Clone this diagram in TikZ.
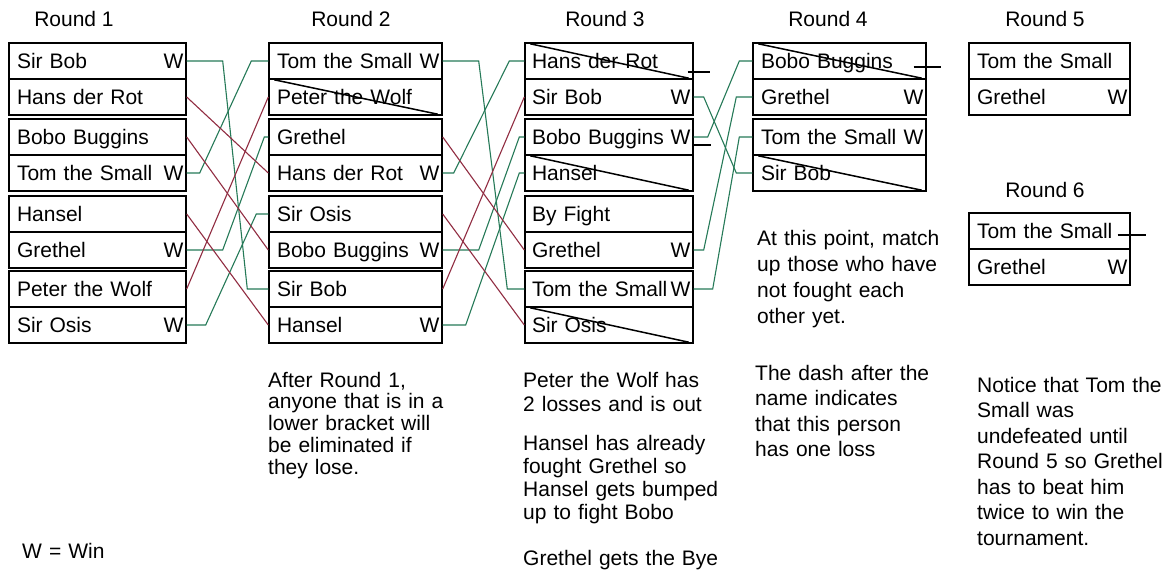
\documentclass[tikz,border=0pt]{standalone}
\usepackage{fontspec}
\setmainfont{Liberation Sans}
\definecolor{grn}{RGB}{38,122,88}
\definecolor{rd}{RGB}{145,45,66}
\begin{document}
\begin{tikzpicture}[x=1pt,y=-1pt,
  every node/.style={font=\fontsize{21}{25}\selectfont},
  row/.style={draw, line width=1.4pt, rectangle, minimum height=36pt, inner xsep=8pt, inner ysep=0pt, text height=14.5pt, text depth=0pt, align=left},
  colA/.style={row, text width=161pt},
  colB/.style={row, text width=157pt},
  colC/.style={row, inner xsep=7pt, text width=154pt},
  colD/.style={row, text width=157pt},
  colE/.style={row, text width=145pt},
  win/.style={label={[anchor=east,inner sep=0pt,xshift=-3pt,text height=14.5pt,text depth=0pt]east:W}},
  gline/.style={draw=grn, line width=1.1pt},
  rline/.style={draw=rd, line width=1.1pt},
  strike/.style={line width=1.5pt},
  dashmark/.style={line width=1.3pt},
  note/.style={anchor=base west, inner sep=0pt, align=left, text width=200pt}
]
\useasboundingbox[fill=white] (0,0) rectangle (1173,573);

% titles
\node (t1) at (74,19) {Round 1};
\node (t2) at (351,19) {Round 2};
\node (t3) at (605,19) {Round 3};
\node (t4) at (828,19) {Round 4};
\node (t5) at (1045,19) {Round 5};
\node (t6) at (1045,190) {Round 6};

% Round 1
\node[colA,win] (a1) at (97.5,61) {Sir Bob};
\node[colA]     (a2) at (97.5,97) {Hans der Rot};
\node[colA]     (a3) at (97.5,137) {Bobo Buggins};
\node[colA,win] (a4) at (97.5,173) {Tom the Small};
\node[colA]     (a5) at (97.5,214) {Hansel};
\node[colA,win] (a6) at (97.5,250) {Grethel};
\node[colA]     (a7) at (97.5,289) {Peter the Wolf};
\node[colA,win] (a8) at (97.5,325) {Sir Osis};

% Round 2
\node[colB,win] (b1) at (355.5,61) {Tom the Small};
\node[colB]     (b2) at (355.5,97) {Peter the Wolf};
\node[colB]     (b3) at (355.5,137) {Grethel};
\node[colB,win] (b4) at (355.5,173) {Hans der Rot};
\node[colB]     (b5) at (355.5,214) {Sir Osis};
\node[colB,win] (b6) at (355.5,250) {Bobo Buggins};
\node[colB]     (b7) at (355.5,289) {Sir Bob};
\node[colB,win] (b8) at (355.5,325) {Hansel};

% Round 3
\node[colC]     (c1) at (609,61) {Hans der Rot};
\node[colC,win] (c2) at (609,97) {Sir Bob};
\node[colC,win] (c3) at (609,137) {Bobo Buggins};
\node[colC]     (c4) at (609,173) {Hansel};
\node[colC]     (c5) at (609,214) {By Fight};
\node[colC,win] (c6) at (609,250) {Grethel};
\node[colC,win] (c7) at (609,289) {Tom the Small};
\node[colC]     (c8) at (609,325) {Sir Osis};

% Round 4
\node[colD]     (d1) at (839.5,61) {Bobo Buggins};
\node[colD,win] (d2) at (839.5,97) {Grethel};
\node[colD,win] (d3) at (839.5,137) {Tom the Small};
\node[colD]     (d4) at (839.5,173) {Sir Bob};

% Round 5
\node[colE]     (e1) at (1049.5,61) {Tom the Small};
\node[colE,win] (e2) at (1049.5,97) {Grethel};

% Round 6
\node[colE]     (f1) at (1049.5,231) {Tom the Small};
\node[colE,win] (f2) at (1049.5,267) {Grethel};

% strikes
\foreach \n in {b2,c1,c4,c8,d1,d4}{
  \draw[strike] ([shift={(6pt,-1.5pt)}]\n.north west) -- ([shift={(-5pt,1.5pt)}]\n.south east);
}

% dashes (one loss)
\draw[dashmark] ([shift={(-6pt,-11pt)}]c1.east) -- ++(22pt,0pt);
\draw[dashmark] ([shift={(0pt,-8pt)}]c3.east) -- ++(17pt,0pt);
\draw[dashmark] ([shift={(-13pt,-6pt)}]d1.east) -- ++(27pt,0pt);
\draw[dashmark] ([shift={(-13pt,-4pt)}]f1.east) -- ++(28pt,0pt);

% Round 1 -> Round 2
\draw[gline] (a1.east) -- ++(36pt,0pt) -- ([xshift=-21pt]b7.west) -- (b7.west);
\draw[gline] (a4.east) -- ++(13pt,0pt) -- ([xshift=-17pt]b1.west) -- (b1.west);
\draw[gline] (a6.east) -- ++(36pt,0pt) -- ([xshift=-4pt]b3.west) -- (b3.west);
\draw[gline] (a8.east) -- ++(19pt,0pt) -- ([xshift=-12pt]b5.west) -- (b5.west);
\draw[rline] (a2.east) -- (b4.west);
\draw[rline] (a3.east) -- (b6.west);
\draw[rline] (a5.east) -- (b8.west);
\draw[rline] (a7.east) -- (b2.west);

% Round 2 -> Round 3
\draw[gline] (b1.east) -- ++(36pt,0pt) -- ([xshift=-17pt]c7.west) -- (c7.west);
\draw[gline] (b4.east) -- ++(11pt,0pt) -- ([xshift=-15pt]c1.west) -- (c1.west);
\draw[gline] (b6.east) -- ++(36pt,0pt) -- ([xshift=-5pt]c3.west) -- (c3.west);
\draw[gline] (b8.east) -- ++(23pt,0pt) -- ([xshift=-5pt]c4.west) -- (c4.west);
\draw[rline] (b3.east) -- (c6.west);
\draw[rline] (b5.east) -- (c8.west);
\draw[rline] (b7.east) -- (c2.west);

% Round 3 -> Round 4
\draw[gline] (c2.east) -- ++(10pt,0pt) -- ([xshift=-16pt]d4.west) -- (d4.west);
\draw[gline] (c3.east) -- ++(14pt,0pt) -- ([xshift=-13pt]d1.west) -- (d1.west);
\draw[gline] (c6.east) -- ++(10pt,0pt) -- ([xshift=-16pt]d2.west) -- (d2.west);
\draw[gline] (c7.east) -- ++(19pt,0pt) -- ([xshift=-13pt]d3.west) -- (d3.west);

% notes
\node[note,font=\fontsize{21}{21.75}\selectfont] (n1) at (268,387) {After Round 1,\\anyone that is in a\\lower bracket will\\be eliminated if\\they lose.};
\node[note,font=\fontsize{21}{24}\selectfont] (n2) at (523,387) {Peter the Wolf has\\2 losses and is out};
\node[note,font=\fontsize{21}{23}\selectfont] (n3) at (523,450) {Hansel has already\\fought Grethel so\\Hansel gets bumped\\up to fight Bobo};
\node[note] (n4) at (523,565) {Grethel gets the Bye};
\node[note,font=\fontsize{21}{26.3}\selectfont] (n5) at (757,245) {At this point, match\\up those who have\\not fought each\\other yet.};
\node[note,font=\fontsize{21}{25.5}\selectfont] (n6) at (755,380) {The dash after the\\name indicates\\that this person\\has one loss};
\node[note,font=\fontsize{21}{25.5}\selectfont] (n7) at (977,392) {Notice that Tom the\\Small was\\undefeated until\\Round 5 so Grethel\\has to beat him\\twice to win the\\tournament.};
\node[note] (n8) at (22,558) {W = Win};
\end{tikzpicture}
\end{document}
